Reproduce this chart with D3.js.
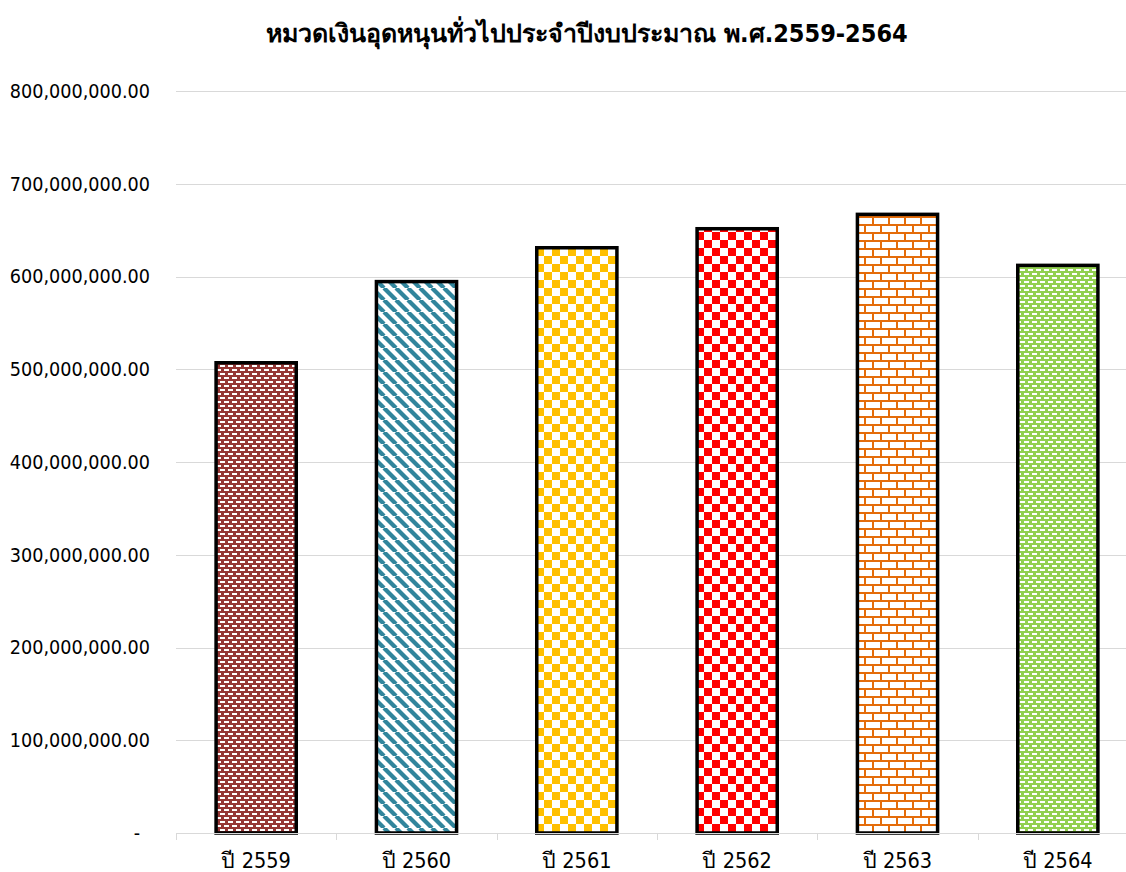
<!DOCTYPE html>
<html><head><meta charset="utf-8">
<script src="https://cdn.jsdelivr.net/npm/d3@7"></script>
<style>
html,body{margin:0;padding:0;background:#fff;overflow:hidden}
text{font-family:"DejaVu Sans Condensed","DejaVu Sans",sans-serif;fill:#000}
</style></head><body>
<svg id="c" width="1126" height="872"></svg>
<script>
const title = "หมวดเงินอุดหนุนทั่วไปประจำปีงบประมาณ พ.ศ.2559-2564";
const categories = ["ปี 2559","ปี 2560","ปี 2561","ปี 2562","ปี 2563","ปี 2564"];
const values = [507000000, 594500000, 631000000, 651500000, 667000000, 612000000];
const yTicks = [0,100000000,200000000,300000000,400000000,500000000,600000000,700000000,800000000];
const patternIds = ["pDashRed","pDiagTeal","pCheckGold","pCheckRed","pBrickOrange","pDashGreen"];

const svg = d3.select("#c");
const defs = svg.append("defs");

function dashPattern(id, bg){
  const p = defs.append("pattern").attr("id",id).attr("patternUnits","userSpaceOnUse")
    .attr("width",8).attr("height",8);
  p.append("rect").attr("width",8).attr("height",8).attr("fill",bg);
  p.append("rect").attr("x",0).attr("y",1).attr("width",5).attr("height",2).attr("fill","#fff");
  p.append("rect").attr("x",4).attr("y",5).attr("width",5).attr("height",2).attr("fill","#fff");
  p.append("rect").attr("x",-4).attr("y",5).attr("width",5).attr("height",2).attr("fill","#fff");
}
dashPattern("pDashRed","#953735");
dashPattern("pDashGreen","#92d050");

(function(){
  const s=12;
  const p = defs.append("pattern").attr("id","pDiagTeal").attr("patternUnits","userSpaceOnUse")
    .attr("width",s).attr("height",s);
  p.append("rect").attr("width",s).attr("height",s).attr("fill","#fff");
  [-s,0,s].forEach(dx=>{
    p.append("line").attr("x1",dx).attr("y1",0).attr("x2",dx+s).attr("y2",s)
      .attr("stroke","#31859c").attr("stroke-width",4.2);
  });
})();

function checker(id,col){
  const p = defs.append("pattern").attr("id",id).attr("patternUnits","userSpaceOnUse")
    .attr("width",16).attr("height",16);
  p.append("rect").attr("width",16).attr("height",16).attr("fill","#fff");
  p.append("rect").attr("x",0).attr("y",0).attr("width",8).attr("height",8).attr("fill",col);
  p.append("rect").attr("x",8).attr("y",8).attr("width",8).attr("height",8).attr("fill",col);
}
checker("pCheckGold","#ffc000");
checker("pCheckRed","#ff0000");

(function(){
  const p = defs.append("pattern").attr("id","pBrickOrange").attr("patternUnits","userSpaceOnUse")
    .attr("width",16).attr("height",16);
  p.append("rect").attr("width",16).attr("height",16).attr("fill","#fff");
  const c="#e46c0a";
  p.append("rect").attr("x",0).attr("y",0).attr("width",16).attr("height",2).attr("fill",c);
  p.append("rect").attr("x",0).attr("y",8).attr("width",16).attr("height",2).attr("fill",c);
  p.append("rect").attr("x",0).attr("y",0).attr("width",2).attr("height",8).attr("fill",c);
  p.append("rect").attr("x",8).attr("y",8).attr("width",2).attr("height",8).attr("fill",c);
})();

const x = d3.scaleBand().domain(categories).range([176, 1138]).paddingInner(0.5).paddingOuter(0.25);
const y = d3.scaleLinear().domain([0, 800000000]).range([833, 91]);

// gridlines
svg.append("g").selectAll("line").data(yTicks.filter(d=>d>0)).join("line")
  .attr("x1",176).attr("x2",1138)
  .attr("y1",d=>Math.round(y(d))+0.5).attr("y2",d=>Math.round(y(d))+0.5)
  .attr("stroke","#d9d9d9").attr("stroke-width",1);

// y labels
const fmt = d3.format(",.2f");
svg.append("g").selectAll("text").data(yTicks).join("text")
  .attr("x",d=>d===0?140:150).attr("y",d=>y(d)).attr("dy","0.35em")
  .attr("text-anchor","end").attr("font-size",19.6)
  .text(d=>d===0?"-":fmt(d));

// bars
svg.append("g").selectAll("rect").data(values).join("rect")
  .attr("x",(d,i)=>x(categories[i]))
  .attr("width",x.bandwidth())
  .attr("y",d=>y(d))
  .attr("height",d=>y(0)-y(d))
  .attr("fill",(d,i)=>`url(#${patternIds[i]})`)
  .attr("stroke","#000").attr("stroke-width",3.5);

// x axis
const xa = svg.append("g");
xa.append("line").attr("x1",176).attr("x2",1138).attr("y1",833.5).attr("y2",833.5)
  .attr("stroke","#d9d9d9").attr("stroke-width",1);
xa.selectAll(".tk").data(d3.range(categories.length+1)).join("line")
  .attr("x1",i=>Math.round(176+i*x.step())+0.5).attr("x2",i=>Math.round(176+i*x.step())+0.5)
  .attr("y1",833).attr("y2",840).attr("stroke","#d9d9d9");
xa.selectAll("text").data(categories).join("text")
  .attr("x",d=>x(d)+x.bandwidth()/2).attr("y",868)
  .attr("text-anchor","middle").attr("font-size",21.5)
  .text(d=>d);

// title
svg.append("text").attr("x",587).attr("y",42).attr("text-anchor","middle")
  .attr("font-size",25).attr("font-weight","bold").text(title);
</script>
</body></html>
